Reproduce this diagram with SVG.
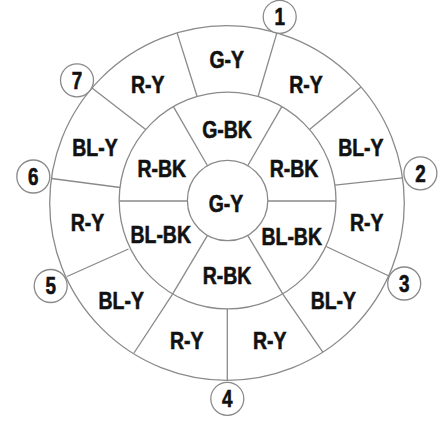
<svg xmlns="http://www.w3.org/2000/svg" width="445" height="421" viewBox="0 0 445 421">
<style>
.ring{fill:none;stroke:#8a8a8a;stroke-width:1.3}
.pin{fill:#fff;stroke:#8a8a8a;stroke-width:1.3}
.ln{stroke:#8a8a8a;stroke-width:1.3;fill:none}
.lb{font-family:"Liberation Sans",Arial,sans-serif;font-weight:bold;font-size:24px;fill:#111;stroke:#111;stroke-width:0.6;text-anchor:middle}
.nm{font-family:"Liberation Sans",Arial,sans-serif;font-weight:bold;font-size:23px;fill:#111;stroke:#111;stroke-width:0.6;text-anchor:middle}
</style>
<rect width="445" height="421" fill="#fff"/>
<g id="rings">
<circle class="ring" cx="227" cy="203" r="177.3"/>
<circle class="ring" cx="227.6" cy="200.5" r="108.4"/>
<circle class="ring" cx="227.6" cy="200.5" r="40.2"/>
</g>
<g id="connectors">
<line class="ln" x1="247.7" y1="165.7" x2="281.8" y2="106.6"/>
<line class="ln" x1="267.8" y1="201" x2="336" y2="201"/>
<line class="ln" x1="247.7" y1="235.3" x2="283" y2="294.4"/>
<line class="ln" x1="207.5" y1="235.3" x2="172.4" y2="294.4"/>
<line class="ln" x1="187.4" y1="201" x2="119.2" y2="201"/>
<line class="ln" x1="207.5" y1="165.7" x2="173.4" y2="106.6"/>
<line class="ln" x1="258.1" y1="96.5" x2="276.9" y2="32.9"/>
<line class="ln" x1="309.5" y1="129.5" x2="361" y2="86.9"/>
<line class="ln" x1="334.9" y1="185.1" x2="402.5" y2="177.8"/>
<line class="ln" x1="326.2" y1="246.5" x2="389" y2="276"/>
<line class="ln" x1="283" y1="294.4" x2="322.8" y2="352.2"/>
<line class="ln" x1="227.3" y1="308.9" x2="227.3" y2="380.3"/>
<line class="ln" x1="172.4" y1="294.4" x2="134" y2="353"/>
<line class="ln" x1="128.5" y1="249" x2="67" y2="276.5"/>
<line class="ln" x1="120.3" y1="187.5" x2="51.5" y2="178.5"/>
<line class="ln" x1="145.7" y1="129.5" x2="92" y2="88"/>
<line class="ln" x1="197.1" y1="96.5" x2="177.1" y2="32.9"/>
</g>
<g id="center-gy"><text class="lb" transform="translate(226,211.7) scale(0.81,1)">G-Y</text></g>
<g id="mid-g-bk"><text class="lb" transform="translate(227,138.3) scale(0.81,1)">G-BK</text></g>
<g id="mid-r-bk-ul"><text class="lb" transform="translate(161.7,176.7) scale(0.81,1)">R-BK</text></g>
<g id="mid-r-bk-ur"><text class="lb" transform="translate(294,176.7) scale(0.81,1)">R-BK</text></g>
<g id="mid-bl-bk-ll"><text class="lb" transform="translate(160.7,243.3) scale(0.81,1)">BL-BK</text></g>
<g id="mid-bl-bk-lr"><text class="lb" transform="translate(291.7,245) scale(0.81,1)">BL-BK</text></g>
<g id="mid-r-bk-b"><text class="lb" transform="translate(227,284.3) scale(0.81,1)">R-BK</text></g>
<g id="out-g-y"><text class="lb" transform="translate(226.7,67.7) scale(0.81,1)">G-Y</text></g>
<g id="out-r-y-tl"><text class="lb" transform="translate(147.8,93.3) scale(0.81,1)">R-Y</text></g>
<g id="out-r-y-tr"><text class="lb" transform="translate(306,93.3) scale(0.81,1)">R-Y</text></g>
<g id="out-bl-y-lu"><text class="lb" transform="translate(95,156) scale(0.81,1)">BL-Y</text></g>
<g id="out-bl-y-ru"><text class="lb" transform="translate(360.8,156) scale(0.81,1)">BL-Y</text></g>
<g id="out-r-y-l"><text class="lb" transform="translate(87.5,230.7) scale(0.81,1)">R-Y</text></g>
<g id="out-r-y-r"><text class="lb" transform="translate(366.7,230.7) scale(0.81,1)">R-Y</text></g>
<g id="out-bl-y-ll"><text class="lb" transform="translate(121.2,309.3) scale(0.81,1)">BL-Y</text></g>
<g id="out-bl-y-rl"><text class="lb" transform="translate(333.3,308.7) scale(0.81,1)">BL-Y</text></g>
<g id="out-r-y-bl"><text class="lb" transform="translate(186.7,349) scale(0.81,1)">R-Y</text></g>
<g id="out-r-y-br"><text class="lb" transform="translate(269.7,349) scale(0.81,1)">R-Y</text></g>
<g id="pin-1"><circle class="pin" cx="279.7" cy="16.8" r="16.5"/><text class="nm" transform="translate(279.7,25) scale(0.82,1)">1</text></g>
<g id="pin-2"><circle class="pin" cx="420.4" cy="173.3" r="16.5"/><text class="nm" transform="translate(420.4,181.5) scale(0.82,1)">2</text></g>
<g id="pin-3"><circle class="pin" cx="404.2" cy="283.5" r="16.5"/><text class="nm" transform="translate(404.2,291.7) scale(0.82,1)">3</text></g>
<g id="pin-4"><circle class="pin" cx="227.3" cy="398.8" r="16.5"/><text class="nm" transform="translate(227.3,407) scale(0.82,1)">4</text></g>
<g id="pin-5"><circle class="pin" cx="50.7" cy="286" r="16.5"/><text class="nm" transform="translate(50.7,294.2) scale(0.82,1)">5</text></g>
<g id="pin-6"><circle class="pin" cx="33.3" cy="176.5" r="16.5"/><text class="nm" transform="translate(33.3,184.7) scale(0.82,1)">6</text></g>
<g id="pin-7"><circle class="pin" cx="77" cy="80.3" r="16.5"/><text class="nm" transform="translate(77,88.5) scale(0.82,1)">7</text></g>
</svg>
